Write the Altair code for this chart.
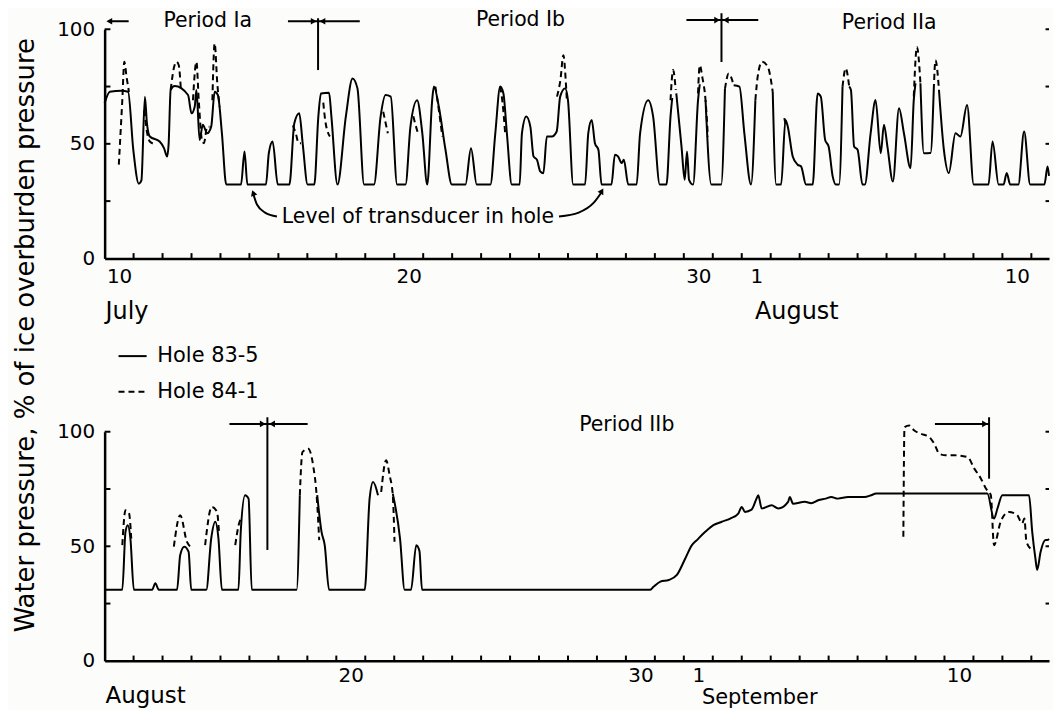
import altair as alt
import pandas as pd

FONT = "DejaVu Sans"
XMAX = 32.61          # days shown in each panel
W, H = 948, 230

# ---------------- top panel: days since 10 July 00:00 ----------------
top_solid_day = [0.00, 0.18, 0.58, 0.81, 0.99, 1.18, 1.27, 1.39, 1.46, 1.56, 1.90, 2.05, 2.16, 2.21, 2.28, 2.42,
                 2.88, 3.00, 3.11, 3.17, 3.28, 3.39, 3.54, 3.68, 3.80, 3.91, 4.05, 4.20, 4.71, 4.83, 4.93, 5.57,
                 5.67, 5.80, 5.98, 6.38, 6.55, 6.72, 6.84, 7.01, 7.24, 7.38, 7.47, 7.75, 7.83, 8.04, 8.33, 8.56,
                 8.73, 8.96, 9.30, 9.53, 9.70, 9.88, 10.10, 10.39, 10.56, 10.79, 10.97, 11.14, 11.31, 11.37,
                 11.54, 11.77, 11.99, 12.46, 12.65, 12.85, 13.32, 13.49, 13.66, 13.77, 13.89, 14.06, 14.33,
                 14.41, 14.56, 14.70, 14.81, 14.93, 15.04, 15.15, 15.27, 15.44, 15.61, 15.73, 15.90, 16.00,
                 16.18, 16.59, 16.70, 16.82, 16.93, 17.05, 17.16, 17.50, 17.62, 17.73, 17.85, 17.93, 18.08,
                 18.37, 18.49, 18.77, 18.94, 19.17, 19.40, 19.54, 19.60, None, 19.74, 19.92, 20.03, 20.11,
                 20.18, 20.32, 20.49, 20.55, None, 20.75, 20.95, 21.29, 21.42, None, 21.72, 21.92, 22.09,
                 22.32, 22.47, None, 23.07, 23.19, 23.36, 23.51, 23.59, 23.76, 23.93, 24.05, 24.22, 24.45,
                 24.62, 24.73, 24.88, 25.00, 25.14, 25.25, 25.36, 25.48, None, 25.71, 25.77, 25.88, 26.00,
                 26.17, 26.25, 26.45, 26.62, 26.80, 26.91, 27.03, 27.22, 27.43, 27.60, 27.83, 27.94, 28.00,
                 None, 28.17, 28.29, 28.52, 28.63, None, 28.81, 28.98, 29.15, 29.38, 29.55, 29.78, 30.01,
                 30.52, 30.66, 30.87, 31.04, 31.15, 31.27, 31.55, 31.75, 31.96, 32.45, 32.56, 32.61]
top_solid_val = [67.7, 72.7, 73.2, 72.7, 47.4, 32.6, 34.0, 70.6, 59.0, 53.2, 51.0, 48.1, 44.5, 50.0, 73.5, 75.2,
                 71.3, 63.3, 66.2, 73.5, 51.7, 58.3, 54.6, 57.5, 72.7, 71.3, 54.6, 32.2, 32.2, 46.7, 32.2, 32.2,
                 46.0, 51.0, 32.2, 32.2, 59.0, 63.3, 50.0, 32.2, 32.2, 62.0, 72.0, 72.3, 62.0, 32.2, 62.0, 78.5,
                 74.2, 32.2, 32.2, 62.0, 71.3, 70.6, 32.2, 32.2, 57.5, 69.0, 54.6, 32.2, 69.0, 75.0,
                 66.2, 47.4, 32.2, 32.2, 48.1, 32.2, 32.2, 54.6, 75.0, 72.0, 54.6, 32.2, 32.2,
                 54.6, 61.9, 57.5, 44.5, 43.0, 38.0, 37.2, 53.2, 53.2, 55.4, 70.6, 74.2, 69.0,
                 32.2, 32.2, 54.6, 60.4, 50.3, 47.4, 32.2, 32.2, 45.2, 44.5, 41.6, 43.0, 32.2,
                 32.2, 54.6, 69.0, 61.9, 32.2, 32.2, 61.9, 70.0, None, 72.0, 48.8, 34.3, 46.7,
                 34.3, 32.2, 69.0, 76.0, None, 69.0, 32.2, 32.2, 74.0, None, 75.6, 75.0, 54.6,
                 32.2, 69.0, None, 72.7, 32.2, 32.2, 60.4, 57.5, 44.5, 40.9, 40.1, 32.2, 32.2,
                 72.0, 70.6, 51.7, 48.8, 35.8, 32.2, 32.2, 75.0, None, 75.0, 73.5, 48.8, 47.4,
                 32.2, 32.2, 54.6, 69.1, 45.9, 58.3, 48.8, 33.6, 65.5, 54.6, 39.4, 69.1, 76.4,
                 None, 76.4, 45.9, 46.0, 73.5, None, 73.5, 47.4, 37.3, 54.6, 53.2, 66.9, 32.2,
                 32.2, 51.0, 32.2, 32.2, 37.3, 32.2, 32.2, 55.4, 32.2, 32.2, 40.1, 36.0]

top_dash_day = [0.49, 0.61, 0.68, 0.76, 0.84, None, 1.37, 1.47, 1.56, 1.70, None,
                2.28, 2.40, 2.48, 2.56, 2.63, None, 3.05, 3.17, 3.25, 3.36, 3.43, 3.54, 3.62, None,
                3.72, 3.80, 3.89, 3.97, None, 6.50, 6.60, 6.70, 6.78, None, 7.55, 7.62, 7.72, 7.78, None,
                9.62, 9.68, 9.78, None, 10.66, 10.72, 10.82, None, 11.42, 11.54, 11.66, None,
                13.66, 13.74, 13.83, None, 15.62, 15.74, 15.84, 15.92, 15.96, None,
                19.54, 19.63, 19.72, None, 20.49, 20.55, 20.64, 20.75, 20.83, None,
                21.42, 21.55, 21.72, None, 22.47, 22.55, 22.70, 22.90, 23.07, None, 23.47, 23.53, None,
                25.48, 25.59, 25.71, None, 27.94, 28.05, 28.17, None, 28.63, 28.69, 28.81]
top_dash_val = [40.9, 69.0, 85.8, 79.0, 72.7, None, 64.8, 54.6, 51.0, 50.0, None,
                73.5, 83.6, 85.8, 84.3, 74.2, None, 69.0, 85.8, 69.0, 51.7, 50.3, 57.5, 57.5, None,
                69.0, 93.8, 76.4, 66.2, None, 58.0, 54.6, 50.3, 50.3, None, 68.0, 60.0, 54.6, 53.2, None,
                64.0, 60.4, 54.6, None, 62.0, 59.0, 54.6, None, 75.0, 64.8, 53.2, None,
                75.0, 68.0, 54.6, None, 70.6, 78.0, 88.7, 78.0, 69.0, None,
                69.0, 82.2, 73.5, None, 72.0, 84.3, 79.0, 69.0, 53.2, None,
                74.0, 80.7, 75.6, None, 69.0, 79.3, 85.8, 83.6, 72.7, None, 61.2, 57.5, None,
                75.0, 82.9, 75.0, None, 70.6, 92.3, 76.4, None, 73.5, 86.5, 73.5]

# ---------------- bottom panel: days since 12 August 00:00 ----------------
bot_solid_day = [0.00, 0.61, 0.72, 0.80, 0.89, 1.01, 1.64, 1.75, 1.87, 2.50, 2.61, 2.75, 2.90, 2.99, 3.51,
                 3.68, 3.82, 3.93, 4.05, 4.62, 4.70, 4.85, 4.97, 5.08, 6.63, 6.74, None, 7.34, 7.49, 7.60,
                 7.75, 8.98, 9.15, 9.27, 9.44, None, 9.95, 10.20, 10.36, 10.58, 10.76, 10.87, 10.96,
                 18.84, 18.96, 19.19, 19.48, 19.76, 20.05, 20.28, 20.45, 20.74, 21.02, 21.31, 21.60,
                 21.88, 22.00, 22.11, 22.34, 22.51, 22.57, 22.69, 23.03, 23.26, 23.60, 23.66, 23.77,
                 24.18, 24.40, 24.64, 24.90, 25.09, 25.32, 25.67, 26.24, 26.47, 26.64, 30.48, 30.71,
                 30.83, 31.00, 31.92, 32.03, 32.14, 32.20, 32.32, 32.49, 32.55, 32.61]
bot_solid_val = [31.0, 31.0, 56.3, 59.2, 53.4, 31.0, 31.0, 33.9, 31.0, 31.0, 46.2, 49.8, 47.6, 31.0, 31.0,
                 53.4, 60.7, 53.4, 31.0, 31.0, 56.3, 72.3, 70.8, 31.0, 31.0, 72.3, None, 72.3, 56.3, 50.5,
                 31.0, 31.0, 70.8, 78.1, 72.3, None, 73.0, 53.4, 31.0, 31.0, 50.5, 48.0, 31.0,
                 31.0, 32.4, 34.6, 35.3, 37.5, 44.7, 50.5, 52.7, 56.3, 59.2, 60.7, 62.1,
                 64.3, 67.2, 65.0, 66.0, 70.8, 72.3, 66.5, 67.9, 66.5, 69.4, 71.5, 68.6,
                 69.4, 68.8, 70.1, 70.8, 71.5, 70.8, 71.5, 71.5, 72.3, 73.0, 73.0, 62.1,
                 66.5, 72.3, 72.3, 56.3, 44.7, 39.7, 47.6, 52.7, 52.7, 53.2]

bot_dash_day = [0.61, 0.72, 0.84, 0.92, None, 2.39, 2.61, 2.84, 2.96, None, 3.47, 3.70, 3.88, 3.95, None,
                4.51, 4.66, 4.72, None, 6.74, 6.83, 7.03, 7.20, 7.32, 7.41, None,
                9.55, 9.72, 9.84, 9.95, 10.01, None,
                27.58, 27.62, 27.79, 27.96, 28.19, 28.48, 28.65, 28.82, 29.05, 29.34, 29.80, 30.03,
                30.26, 30.43, 30.60, 30.71, 30.94, 31.22, 31.51, 31.68, 31.76, 31.83, 32.03]
bot_dash_val = [50.5, 65.7, 64.5, 53.4, None, 49.8, 63.6, 52.0, 49.8, None, 50.5, 67.2, 65.0, 56.0, None,
                50.5, 60.7, 62.0, None, 72.3, 91.1, 92.6, 85.3, 72.3, 52.7, None,
                73.7, 87.5, 81.0, 72.3, 52.0, None,
                54.2, 102.0, 102.7, 100.5, 99.1, 97.6, 94.7, 90.4, 89.7, 89.7, 88.9, 83.9,
                79.5, 75.2, 72.3, 50.5, 60.7, 65.0, 63.6, 60.0, 62.1, 52.0, 48.4]

# ---------------- axis tick labels (day centres) ----------------
top_label_pos = [0.5, 10.5, 20.5, 22.5, 31.5]
top_label_txt = ["10", "20", "30", "1", "10"]
bot_label_pos = [8.5, 18.5, 20.5, 29.5]
bot_label_txt = ["20", "30", "1", "10"]
y_label_vals = [0, 50, 100]
y_tick_vals = [25, 50, 75, 100]

# ---------------- annotations ----------------
# period boundary markers: (d, d2, v, v2)
top_marks = [(7.37, 7.37, 82.2, 104.8), (6.33, 8.81, 103.5, 103.5), (0.14, 0.83, 103.5, 103.5),
             (21.30, 21.30, 85.7, 107.0), (20.09, 22.57, 104.0, 104.0)]
top_heads = [(0.16, 103.5, "triangle-left", 0), (7.22, 103.5, "triangle-right", 0), (7.52, 103.5, "triangle-left", 0),
             (21.15, 104.0, "triangle-right", 0), (21.45, 104.0, "triangle-left", 0),
             (5.13, 28.6, "triangle-up", 340), (17.17, 29.4, "triangle-up", 30)]
bot_marks = [(5.62, 5.62, 48.4, 106.3), (4.31, 7.01, 103.4, 103.4),
             (30.54, 30.54, 79.5, 106.3), (28.67, 30.54, 103.4, 103.4)]
bot_heads = [(5.46, 103.4, "triangle-right", 0), (5.78, 103.4, "triangle-left", 0), (30.40, 103.4, "triangle-right", 0)]

arrow_day = [5.13, 5.26, 5.54, 5.95, None, 15.69, 16.37, 16.89, 17.17]
arrow_val = [28.3, 23.5, 20.0, 18.3, None, 18.3, 20.0, 24.3, 29.1]

top_texts = [("Period Ia", 3.56, 103.5), ("Period Ib", 14.36, 104.0), ("Period IIa", 27.09, 102.6),
             ("Level of transducer in hole", 10.82, 18.0)]
top_months = [("July", 0.03, -23.5, "left", 24), ("August", 23.9, -23.5, "center", 24)]
bot_texts = [("Period IIb", 18.03, 103.0)]
bot_months = [("August", 0.03, -15.2, "left", 23), ("September", 22.62, -16.3, "center", 21)]

legend_rows = [("Hole 83-5", 133.0, "solid"), ("Hole 84-1", 117.4, "dash")]


def seg_frame(days, vals):
    rows, seg = [], 0
    for d, v in zip(days, vals):
        if d is None or v is None:
            seg += 1
            continue
        rows.append({"d": d, "v": v, "seg": seg})
    return pd.DataFrame(rows)


def X(field="d", axis=None):
    kw = {"scale": alt.Scale(domain=[0, XMAX], nice=False, zero=False)}
    if axis is not None:
        kw["axis"] = axis
    return alt.X(f"{field}:Q", **kw)


def Y(field="v", axis=None):
    kw = {"scale": alt.Scale(domain=[0, 100], nice=False, zero=False)}
    if axis is not None:
        kw["axis"] = axis
    return alt.Y(f"{field}:Q", **kw)


def lab_expr(pos, txt):
    s = "''"
    for p, t in reversed(list(zip(pos, txt))):
        s = f"datum.value == {p} ? '{t}' : {s}"
    return s


def x_axis(pos, txt, pad):
    return alt.Axis(values=pos, labelExpr=lab_expr(pos, txt), ticks=False, tickSize=0, grid=False,
                    domainColor="black", domainWidth=2.5, labelFont=FONT, labelFontSize=20,
                    labelColor="black", labelPadding=pad, labelFlush=False, labelOverlap=False, title=None)


y_axis = alt.Axis(values=y_label_vals, ticks=False, tickSize=0, grid=False, domainColor="black",
                  domainWidth=2.5, labelFont=FONT, labelFontSize=20, labelColor="black",
                  labelPadding=10, title=None)


def tick_frame():
    rows = []
    for k in range(1, int(XMAX) + 1):
        rows.append({"d": k, "d2": k, "v": 0, "v2": 2.3})
    for t in y_tick_vals:
        rows.append({"d": 0, "d2": 0.2, "v": t, "v2": t})
        rows.append({"d": XMAX - 0.12, "d2": XMAX, "v": t, "v2": t})
    return pd.DataFrame(rows)


def panel(solid_d, solid_v, dash_d, dash_v, lpos, ltxt, lpad, marks, heads, texts, months, extra=None):
    solid = alt.Chart(seg_frame(solid_d, solid_v)).mark_line(
        color="black", strokeWidth=2, interpolate="monotone").encode(
        x=X(axis=x_axis(lpos, ltxt, lpad)), y=Y(axis=y_axis), detail="seg:N")
    dashed = alt.Chart(seg_frame(dash_d, dash_v)).mark_line(
        color="black", strokeWidth=2, strokeDash=[6, 4], interpolate="monotone").encode(
        x=X(), y=Y(), detail="seg:N")
    ticks = alt.Chart(tick_frame()).mark_rule(color="black", strokeWidth=2).encode(
        x=X(), x2="d2:Q", y=Y(), y2="v2:Q")
    mk = pd.DataFrame(marks, columns=["d", "d2", "v", "v2"])
    markers = alt.Chart(mk).mark_rule(color="black", strokeWidth=2).encode(
        x=X(), x2="d2:Q", y=Y(), y2="v2:Q")
    hd = pd.DataFrame(heads, columns=["d", "v", "shape", "ang"])
    heads_l = alt.Chart(hd).mark_point(filled=True, color="black", size=45, opacity=1).encode(
        x=X(), y=Y(), shape=alt.Shape("shape:N", scale=None), angle=alt.Angle("ang:Q", scale=None))
    tx = pd.DataFrame(texts, columns=["t", "d", "v"])
    text_l = alt.Chart(tx).mark_text(font=FONT, fontSize=20.5, color="black", align="center",
                                     baseline="middle").encode(x=X(), y=Y(), text="t:N")
    layers = [solid, dashed, ticks, markers, heads_l, text_l]
    for (t, d, v, al, fs) in months:
        layers.append(alt.Chart(pd.DataFrame([{"t": t, "d": d, "v": v}])).mark_text(
            font=FONT, fontSize=fs, color="black", align=al, baseline="middle").encode(
            x=X(), y=Y(), text="t:N"))
    if extra:
        layers += extra
    return alt.layer(*layers).properties(width=W, height=H)


arrows = alt.Chart(seg_frame(arrow_day, arrow_val)).mark_line(
    color="black", strokeWidth=2, interpolate="monotone").encode(x=X(), y=Y(), detail="seg:N")

top = panel(top_solid_day, top_solid_val, top_dash_day, top_dash_val, top_label_pos, top_label_txt, 8,
            top_marks, top_heads, top_texts, top_months, extra=[arrows])

leg = pd.DataFrame([{"d": 0.48, "d2": 1.45, "v": v, "v2": v, "t": t, "kind": k, "tx": 1.82}
                    for (t, v, k) in legend_rows])
leg_solid = alt.Chart(leg[leg.kind == "solid"]).mark_rule(color="black", strokeWidth=2).encode(
    x=X(), x2="d2:Q", y=Y(), y2="v2:Q")
leg_dash = alt.Chart(leg[leg.kind == "dash"]).mark_rule(color="black", strokeWidth=2, strokeDash=[6, 4]).encode(
    x=X(), x2="d2:Q", y=Y(), y2="v2:Q")
leg_text = alt.Chart(leg).mark_text(font=FONT, fontSize=21, color="black", align="left",
                                    baseline="middle").encode(x=X("tx"), y=Y(), text="t:N")

bottom = panel(bot_solid_day, bot_solid_val, bot_dash_day, bot_dash_val, bot_label_pos, bot_label_txt, 5,
               bot_marks, bot_heads, bot_texts, bot_months, extra=[leg_solid, leg_dash, leg_text])

chart = alt.vconcat(
    top, bottom, spacing=174, bounds="flush",
    title=alt.TitleParams(text="Water pressure, % of ice overburden pressure", orient="left",
                          anchor="middle", font=FONT, fontSize=26, fontWeight="normal",
                          color="black", offset=18, dx=24)
).properties(
    padding={"left": 4, "top": 0, "right": 0, "bottom": 0},
    background="#fcfcfa"
).configure_view(stroke=None)

chart.save("out.html", embed_options={"renderer": "svg", "actions": False})
